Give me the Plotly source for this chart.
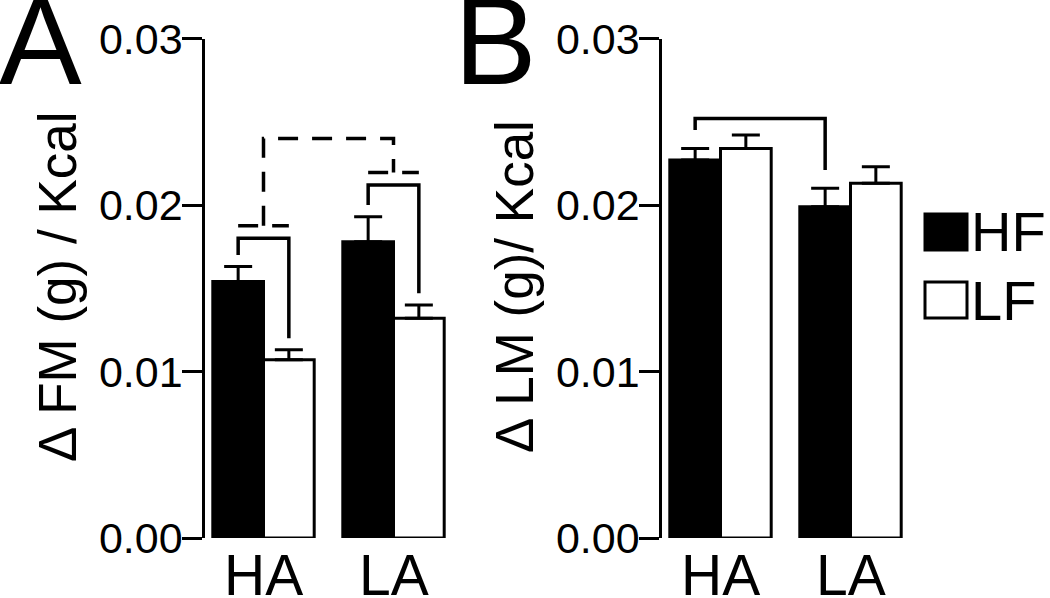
import plotly.graph_objects as go

groups = ["HA", "LA"]
diets = ["HF", "LF"]
bar_fill = ["black", "white"]

# panel A: change in fat mass per kcal
fm_hf = [0.0154, 0.0178]
fm_hf_sem = [0.0009, 0.0015]
fm_lf = [0.0107, 0.0132]
fm_lf_sem = [0.0006, 0.0008]

# panel B: change in lean mass per kcal
lm_hf = [0.0227, 0.0199]
lm_hf_sem = [0.0007, 0.0011]
lm_lf = [0.0234, 0.0213]
lm_lf_sem = [0.0008, 0.0010]

# significance bracket levels
fm_bracket_top = [0.0180, 0.0212]
fm_dash_top = 0.0240
lm_bracket_top = 0.0252

FONT = "Arial, Liberation Sans, sans-serif"
BARGAP = 0.22
off = (1 - BARGAP) / 4  # centre of each bar relative to the group centre
xpos = list(range(len(groups)))

fig = go.Figure()


def add_bars(means, sems, xa, ya):
    for name, vals, err, col in zip(diets, means, sems, bar_fill):
        fig.add_trace(go.Bar(
            x=xpos, y=vals, name=name, xaxis=xa, yaxis=ya,
            marker=dict(color=col, line=dict(color="black", width=3)),
            error_y=dict(type="data", array=err, arrayminus=[0] * len(err),
                         symmetric=False, color="black", thickness=3, width=14),
            showlegend=False,
        ))


def add_line(xs, ys, xa, ya, dash="solid"):
    fig.add_trace(go.Scatter(
        x=xs, y=ys, xaxis=xa, yaxis=ya, mode="lines",
        line=dict(color="black", width=3.5, dash=dash),
        showlegend=False, hoverinfo="skip",
    ))


add_bars([fm_hf, fm_lf], [fm_hf_sem, fm_lf_sem], "x", "y")
add_bars([lm_hf, lm_lf], [lm_hf_sem, lm_lf_sem], "x2", "y2")

# panel A brackets (HF vs LF inside each group)
gap = 0.0007
dash = "20px,14px"
for i in xpos:
    top = fm_bracket_top[i]
    add_line([i - off, i - off, i + off, i + off],
             [fm_hf[i] + fm_hf_sem[i] + gap, top, top, fm_lf[i] + fm_lf_sem[i] + gap],
             "x", "y")
    add_line([i - off, i + off], [top + 0.00075, top + 0.00075], "x", "y", dash)
add_line([0, 0, 1, 1],
         [fm_bracket_top[0] + 0.00075, fm_dash_top, fm_dash_top, fm_bracket_top[1] + 0.00075],
         "x", "y", dash)

# panel B bracket (HF in HA vs HF in LA)
gapb = 0.0011
add_line([0 - off, 0 - off, 1 - off, 1 - off],
         [lm_hf[0] + lm_hf_sem[0] + gapb, lm_bracket_top, lm_bracket_top, lm_hf[1] + lm_hf_sem[1] + gapb],
         "x2", "y2")

yax = dict(range=[0, 0.03], dtick=0.01, tickformat=".2f", showgrid=False, zeroline=False,
           showline=True, linecolor="black", linewidth=2.5, ticks="outside", ticklen=20,
           tickwidth=2.5, tickcolor="black", ticklabelstandoff=-9,
           tickfont=dict(family=FONT, size=43, color="black"),
           domain=[0.1003, 0.9356], automargin=False)
xax = dict(range=[-0.45, 1.45], showticklabels=False, showgrid=False,
           zeroline=False, showline=False, ticks="", automargin=False)

fig.update_layout(
    width=1050, height=598, autosize=False,
    margin=dict(l=0, r=0, t=0, b=0),
    paper_bgcolor="white", plot_bgcolor="white",
    barmode="group", bargap=BARGAP, bargroupgap=0,
    xaxis=dict(xax, domain=[205 / 1050, 452 / 1050], anchor="y"),
    xaxis2=dict(xax, domain=[662 / 1050, 909 / 1050], anchor="y2"),
    yaxis=dict(yax, anchor="x"),
    yaxis2=dict(yax, anchor="x2"),
    font=dict(family=FONT, color="black"),
)

# group labels under the bars
for xa in ["x", "x2"]:
    for i, g in zip(xpos, groups):
        fig.add_annotation(x=i, y=(598 - 575) / 598, xref=xa, yref="paper",
                           xanchor="center", yanchor="middle", text=g, showarrow=False,
                           font=dict(family=FONT, size=57, color="black"))

# axis titles and panel letters
for x, text in [(57, "\u0394 FM (g) / Kcal"), (514, "\u0394 LM (g)/ Kcal")]:
    fig.add_annotation(x=x / 1050, y=(598 - 287) / 598, xref="paper", yref="paper",
                       xanchor="center", yanchor="middle",
                       text=text, textangle=-90, showarrow=False,
                       font=dict(family=FONT, size=53, color="black"))
for x, text in [(-3, "A"), (452, "B")]:
    fig.add_annotation(x=x / 1050, y=1.05, xref="paper", yref="paper", xanchor="left",
                       yanchor="top", text=text, showarrow=False,
                       font=dict(family=FONT, size=124, color="black"))

# legend drawn by hand so the swatches match the original size
for k, (name, col) in enumerate(zip(diets, bar_fill)):
    yc = 232 + k * 68
    fig.add_shape(type="rect", xref="paper", yref="paper",
                  x0=925 / 1050, x1=967 / 1050, y0=(598 - yc - 18) / 598, y1=(598 - yc + 18) / 598,
                  fillcolor=col, line=dict(color="black", width=3))
    fig.add_annotation(x=969 / 1050, y=(598 - yc) / 598, xref="paper", yref="paper",
                       xanchor="left", yanchor="middle", text=name, showarrow=False,
                       font=dict(family=FONT, size=56, color="black"))

fig.write_html("out.html", config={"displayModeBar": False},
               post_script="document.body.style.margin = '0';")
